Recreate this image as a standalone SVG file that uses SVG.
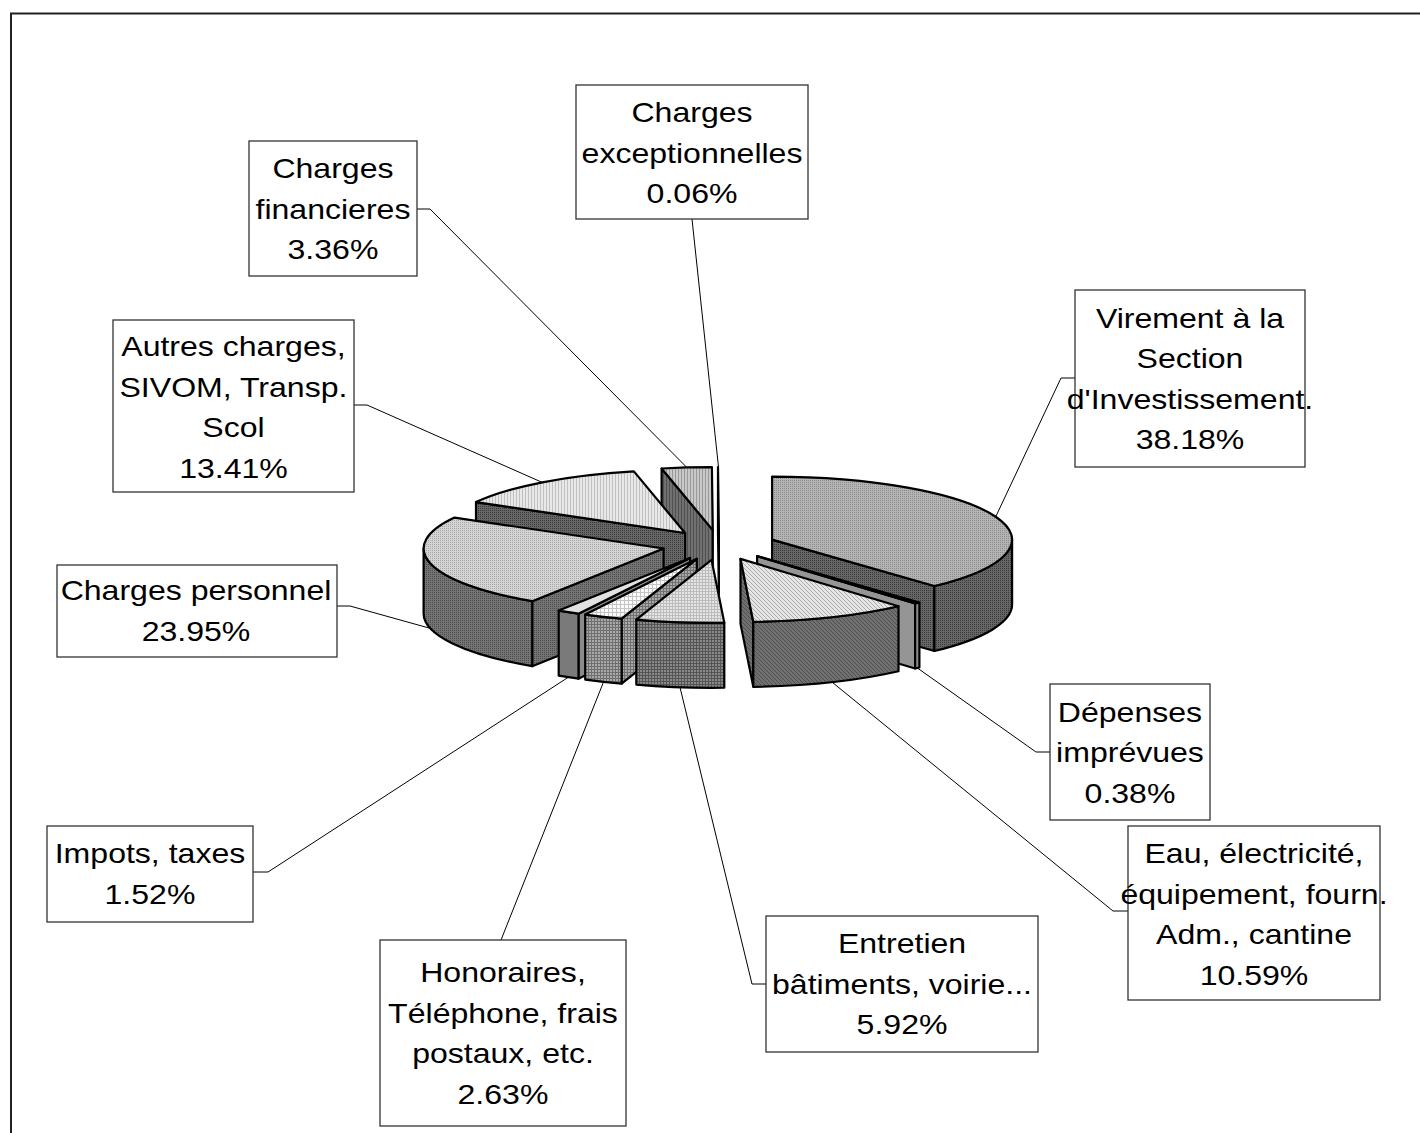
<svg xmlns="http://www.w3.org/2000/svg" width="1420" height="1133" viewBox="0 0 1420 1133">
<style>
.pie path{stroke:#000;stroke-width:2.2;stroke-linejoin:round}
.box{fill:#fff;stroke:#333;stroke-width:1.3}
.lbl{font-family:"Liberation Sans",Arial,sans-serif;font-size:28px;fill:#000;text-anchor:middle}
.lead{fill:none;stroke:#000;stroke-width:1}
</style>
<defs>
<pattern id="pVirTop" width="2" height="2" patternUnits="userSpaceOnUse"><rect width="2" height="2" fill="#b4b4b4"/><rect width="1" height="1" fill="#8c8c8c"/></pattern>
<pattern id="pVirSide" width="2" height="2" patternUnits="userSpaceOnUse"><rect width="2" height="2" fill="#666"/><rect width="1" height="1" fill="#3a3a3a"/></pattern>
<pattern id="pAutTop" width="3" height="3" patternUnits="userSpaceOnUse"><rect width="3" height="3" fill="#e8e8e8"/><rect width="1" height="3" fill="#c0c0c0"/></pattern>
<pattern id="pFinTop" width="3" height="3" patternUnits="userSpaceOnUse"><rect width="3" height="3" fill="#c8c8c8"/><rect width="1" height="3" fill="#999"/></pattern>
<pattern id="pFinSide" width="3" height="3" patternUnits="userSpaceOnUse"><rect width="3" height="3" fill="#707070"/><rect width="1" height="3" fill="#505050"/></pattern>
<pattern id="pPerTop" width="2" height="2" patternUnits="userSpaceOnUse"><rect width="2" height="2" fill="#d4d4d4"/><rect width="1" height="1" fill="#a8a8a8"/></pattern>
<pattern id="pPerSide" width="2" height="2" patternUnits="userSpaceOnUse"><rect width="2" height="2" fill="#747474"/><rect width="1" height="1" fill="#4c4c4c"/></pattern>
<pattern id="pEauTop" width="4" height="4" patternUnits="userSpaceOnUse"><rect width="4" height="4" fill="#e6e6e6"/><rect x="0" y="0" width="1" height="1" fill="#aaa"/><rect x="1" y="1" width="1" height="1" fill="#aaa"/><rect x="2" y="2" width="1" height="1" fill="#aaa"/><rect x="3" y="3" width="1" height="1" fill="#aaa"/></pattern>
<pattern id="pEauSide" width="4" height="4" patternUnits="userSpaceOnUse"><rect width="4" height="4" fill="#707070"/><rect x="0" y="0" width="1" height="1" fill="#505050"/><rect x="1" y="1" width="1" height="1" fill="#505050"/><rect x="2" y="2" width="1" height="1" fill="#505050"/><rect x="3" y="3" width="1" height="1" fill="#505050"/></pattern>
<pattern id="pEntTop" width="3" height="3" patternUnits="userSpaceOnUse"><rect width="3" height="3" fill="#e4e4e4"/><rect width="3" height="1" fill="#bcbcbc"/><rect width="1" height="3" fill="#bcbcbc"/></pattern>
<pattern id="pEntSide" width="3" height="3" patternUnits="userSpaceOnUse"><rect width="3" height="3" fill="#888"/><rect width="3" height="1" fill="#555"/><rect width="1" height="3" fill="#555"/></pattern>
<pattern id="pHonTop" width="4" height="4" patternUnits="userSpaceOnUse"><rect width="4" height="4" fill="#fafafa"/><rect width="4" height="1" fill="#c4c4c4"/><rect width="1" height="4" fill="#c4c4c4"/></pattern>
<pattern id="pHonSide" width="3" height="3" patternUnits="userSpaceOnUse"><rect width="3" height="3" fill="#a8a8a8"/><rect width="3" height="1" fill="#707070"/><rect width="1" height="3" fill="#707070"/></pattern>
</defs>
<rect width="1420" height="1133" fill="#fff"/>
<path d="M11,1140 V13.5 H1430" fill="none" stroke="#222" stroke-width="2"/>

<g class="pie">
<g id="s-exc"><path d="M718.9,530 L718,467 L718,532 L718.9,595 Z" fill="#000"/></g>
<g id="s-fin">
<path d="M712.8,530.1 L661.6,468.5 L661.6,533.5 L712.8,595.1 Z" fill="url(#pFinSide)"/>
<path d="M712.8,530.1 L661.6,468.5 A240,63 0 0 1 711.9,467.1 Z" fill="url(#pFinTop)"/>
</g>
<g id="s-autres">
<path d="M685.1,533 L476,502.1 L476,567.1 L685.1,598 Z" fill="url(#pVirSide)"/>
<path d="M685.1,533 L476,502.1 A240,63 0 0 1 633.9,471.4 Z" fill="url(#pAutTop)"/>
</g>
<g id="s-virement">
<path d="M772.1,539.6 L934.4,586 L934.4,651 L772.1,604.6 Z" fill="url(#pVirSide)"/>
<path d="M1012.1,539.6 A240,63 0 0 1 934.4,586 L934.4,651 A240,63 0 0 0 1012.1,604.6 Z" fill="url(#pVirSide)"/>
<path d="M772.1,539.6 L772.1,476.6 A240,63 0 0 1 934.4,586 Z" fill="url(#pVirTop)"/>
</g>
<g id="s-personnel">
<path d="M663.6,548.5 L532.2,601.2 L532.2,666.2 L663.6,613.5 Z" fill="url(#pPerSide)"/>
<path d="M532.2,601.2 A240,63 0 0 1 423.6,548.5 L423.6,613.5 A240,63 0 0 0 532.2,666.2 Z" fill="url(#pPerSide)"/>
<path d="M663.6,548.5 L532.2,601.2 A240,63 0 0 1 454.5,517.6 Z" fill="url(#pPerTop)"/>
</g>
<g id="s-depenses">
<path d="M757.1,556.1 L915.1,603.5 L915.1,668.5 L757.1,621.1 Z" fill="#959595"/>
<path d="M919.4,602.5 A240,63 0 0 1 915.1,603.5 L915.1,668.5 A240,63 0 0 0 919.4,667.5 Z" fill="#8a8a8a"/>
<path d="M757.1,556.1 L919.4,602.5 A240,63 0 0 1 915.1,603.5 Z" fill="#c8c8c8"/>
</g>
<g id="s-impots">
<path d="M690.1,557.9 L578.5,613.7 L578.5,678.7 L690.1,622.9 Z" fill="#8a8a8a"/>
<path d="M578.5,613.7 A240,63 0 0 1 558.7,610.6 L558.7,675.6 A240,63 0 0 0 578.5,678.7 Z" fill="#7a7a7a"/>
<path d="M690.1,557.9 L578.5,613.7 A240,63 0 0 1 558.7,610.6 Z" fill="#e2e2e2"/>
</g>
<g id="s-honoraires">
<path d="M696.8,558.8 L621.6,618.6 L621.6,683.6 L696.8,623.8 Z" fill="url(#pHonSide)"/>
<path d="M621.6,618.6 A240,63 0 0 1 585.2,614.6 L585.2,679.6 A240,63 0 0 0 621.6,683.6 Z" fill="url(#pHonSide)"/>
<path d="M696.8,558.8 L621.6,618.6 A240,63 0 0 1 585.2,614.6 Z" fill="url(#pHonTop)"/>
</g>
<g id="s-eau">
<path d="M740.5,558.9 L753.3,621.8 L753.3,686.8 L740.5,623.9 Z" fill="url(#pEauSide)"/>
<path d="M898.5,606.3 A240,63 0 0 1 753.3,621.8 L753.3,686.8 A240,63 0 0 0 898.5,671.3 Z" fill="url(#pEauSide)"/>
<path d="M740.5,558.9 L898.5,606.3 A240,63 0 0 1 753.3,621.8 Z" fill="url(#pEauTop)"/>
</g>
<g id="s-entretien">
<path d="M724.3,622.7 A240,63 0 0 1 636.3,619.6 L636.3,684.6 A240,63 0 0 0 724.3,687.7 Z" fill="url(#pEntSide)"/>
<path d="M711.5,559.8 L724.3,622.7 A240,63 0 0 1 636.3,619.6 Z" fill="url(#pEntTop)"/>
</g>
</g>

<g id="connectors">
<path class="lead" d="M692,219 L718.5,467"/>
<path class="lead" d="M417,209 L430,209 L686.8,467.4"/>
<path class="lead" d="M1075,378 L1061,378 L995.6,517"/>
<path class="lead" d="M354,405 L367,405 L542,482.3"/>
<path class="lead" d="M337,606 L350,606 L430.4,628.4"/>
<path class="lead" d="M1050,752 L1036,752 L917.4,668"/>
<path class="lead" d="M1128,911 L1113,911 L830.9,681.2"/>
<path class="lead" d="M766,984 L752,984 L680,687.3"/>
<path class="lead" d="M501,940 L603.2,682.8"/>
<path class="lead" d="M253,872 L268,872 L568.4,677.2"/>
</g>

<g id="n-exc"><rect class="box" x="576" y="85" width="232" height="134"/>
<g transform="scale(1.145 1)"><text class="lbl" x="604.4" y="122">Charges</text><text class="lbl" x="604.4" y="163">exceptionnelles</text><text class="lbl" x="604.4" y="203">0.06%</text></g></g>

<g id="n-fin"><rect class="box" x="249" y="141" width="168" height="135"/>
<g transform="scale(1.145 1)"><text class="lbl" x="290.8" y="178">Charges</text><text class="lbl" x="290.8" y="219">financieres</text><text class="lbl" x="290.8" y="259">3.36%</text></g></g>

<g id="n-virement"><rect class="box" x="1075" y="290" width="230" height="177"/>
<g transform="scale(1.145 1)"><text class="lbl" x="1039.3" y="328">Virement à la</text><text class="lbl" x="1039.3" y="368">Section</text><text class="lbl" x="1039.3" y="409">d'Investissement.</text><text class="lbl" x="1039.3" y="449">38.18%</text></g></g>

<g id="n-autres"><rect class="box" x="113" y="320" width="241" height="172"/>
<g transform="scale(1.145 1)"><text class="lbl" x="203.9" y="356">Autres charges,</text><text class="lbl" x="203.9" y="397">SIVOM, Transp.</text><text class="lbl" x="203.9" y="437">Scol</text><text class="lbl" x="203.9" y="478">13.41%</text></g></g>

<g id="n-personnel"><rect class="box" x="57" y="565" width="280" height="92"/>
<g transform="scale(1.145 1)"><text class="lbl" x="171.2" y="600">Charges personnel</text><text class="lbl" x="171.2" y="641">23.95%</text></g></g>

<g id="n-depenses"><rect class="box" x="1050" y="684" width="160" height="136"/>
<g transform="scale(1.145 1)"><text class="lbl" x="986.9" y="722">Dépenses</text><text class="lbl" x="986.9" y="762">imprévues</text><text class="lbl" x="986.9" y="803">0.38%</text></g></g>

<g id="n-eau"><rect class="box" x="1128" y="826" width="252" height="174"/>
<g transform="scale(1.145 1)"><text class="lbl" x="1095.2" y="863">Eau, électricité,</text><text class="lbl" x="1095.2" y="904">équipement, fourn.</text><text class="lbl" x="1095.2" y="944">Adm., cantine</text><text class="lbl" x="1095.2" y="985">10.59%</text></g></g>

<g id="n-entretien"><rect class="box" x="766" y="916" width="272" height="136"/>
<g transform="scale(1.145 1)"><text class="lbl" x="787.8" y="953">Entretien</text><text class="lbl" x="787.8" y="994">bâtiments, voirie...</text><text class="lbl" x="787.8" y="1034">5.92%</text></g></g>

<g id="n-honoraires"><rect class="box" x="380" y="940" width="246" height="186"/>
<g transform="scale(1.145 1)"><text class="lbl" x="439.3" y="982">Honoraires,</text><text class="lbl" x="439.3" y="1023">Téléphone, frais</text><text class="lbl" x="439.3" y="1063">postaux, etc.</text><text class="lbl" x="439.3" y="1104">2.63%</text></g></g>

<g id="n-impots"><rect class="box" x="47" y="826" width="206" height="96"/>
<g transform="scale(1.145 1)"><text class="lbl" x="131.0" y="863">Impots, taxes</text><text class="lbl" x="131.0" y="904">1.52%</text></g></g>
</svg>
